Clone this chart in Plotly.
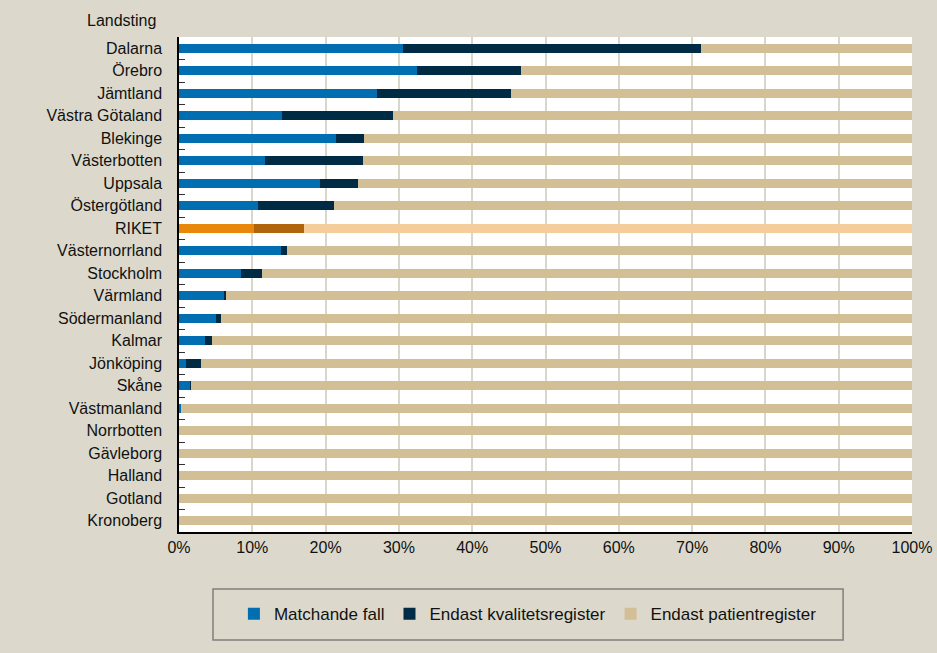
import plotly.graph_objects as go

categories = ["Dalarna", "Örebro", "Jämtland", "Västra Götaland", "Blekinge", "Västerbotten",
              "Uppsala", "Östergötland", "RIKET", "Västernorrland", "Stockholm", "Värmland",
              "Södermanland", "Kalmar", "Jönköping", "Skåne", "Västmanland", "Norrbotten",
              "Gävleborg", "Halland", "Gotland", "Kronoberg"]
matchande = [30.6, 32.5, 27.0, 14.1, 21.4, 11.8, 19.2, 10.8, 10.2, 13.9, 8.5, 6.2,
             5.0, 3.5, 1.0, 1.6, 0.3, 0, 0, 0, 0, 0]
kvalitet = [40.6, 14.2, 18.3, 15.1, 3.8, 13.3, 5.2, 10.3, 6.9, 0.9, 2.8, 0.2,
            0.7, 1.0, 2.0, 0.1, 0, 0, 0, 0, 0, 0]
patient = [round(100 - m - k, 1) for m, k in zip(matchande, kvalitet)]
x_ticks = [0, 10, 20, 30, 40, 50, 60, 70, 80, 90, 100]
x_labels = [f"{v}%" for v in x_ticks]

series = [
    ("Matchande fall", matchande, "#006eb0", "#e8870a"),
    ("Endast kvalitetsregister", kvalitet, "#002b45", "#b0640c"),
    ("Endast patientregister", patient, "#d3bf96", "#f5cd9a"),
]

FONT = "Liberation Sans"
fig = go.Figure()
for name, vals, col, rcol in series:
    colors = [rcol if c == "RIKET" else col for c in categories]
    fig.add_trace(go.Bar(
        y=categories, x=vals, name=name, orientation="h",
        marker=dict(color=colors, line=dict(width=0)),
    ))
fig.update_layout(
    barmode="stack",
    bargap=0.6,
    width=937, height=653,
    paper_bgcolor="#dcd9cc",
    plot_bgcolor="#ffffff",
    margin=dict(l=179, r=25, t=37, b=121),
    font=dict(family=FONT, size=16, color="#111111"),
    showlegend=True,
    legend=dict(orientation="h", x=0.476, xanchor="center", y=-0.166, yanchor="middle",
                bgcolor="rgba(0,0,0,0)", font=dict(size=17), traceorder="normal",
                itemwidth=30),
    xaxis=dict(range=[0, 100], tickvals=x_ticks, ticktext=x_labels, showgrid=True,
               gridcolor="#d9d6cc", gridwidth=1.5, showline=True, linecolor="#000000",
               linewidth=1.5, ticks="", zeroline=False, tickfont=dict(size=16),
               mirror=False, automargin=False),
    yaxis=dict(categoryorder="array", categoryarray=categories, autorange="reversed",
               showline=True, linecolor="#000000", linewidth=1.5, ticks="inside",
               tickson="boundaries", ticklen=6, tickcolor="#333333",
               tickfont=dict(size=16), showgrid=False, ticklabelstandoff=12,
               automargin=False),
    shapes=[dict(type="rect", xref="paper", yref="paper", x0=0.0464, x1=0.906,
                 y0=-0.1152, y1=-0.218, line=dict(color="#7f7f7f", width=1.5),
                 fillcolor="rgba(0,0,0,0)", layer="below")],
    annotations=[dict(text="Landsting", xref="paper", yref="paper", x=-0.029, y=1.0,
                      xanchor="right", yanchor="bottom", yshift=6, showarrow=False,
                      font=dict(size=16, family=FONT))],
)
fig.write_html("out.html", config={"displayModeBar": False},
               post_script="document.body.style.margin='0';")
